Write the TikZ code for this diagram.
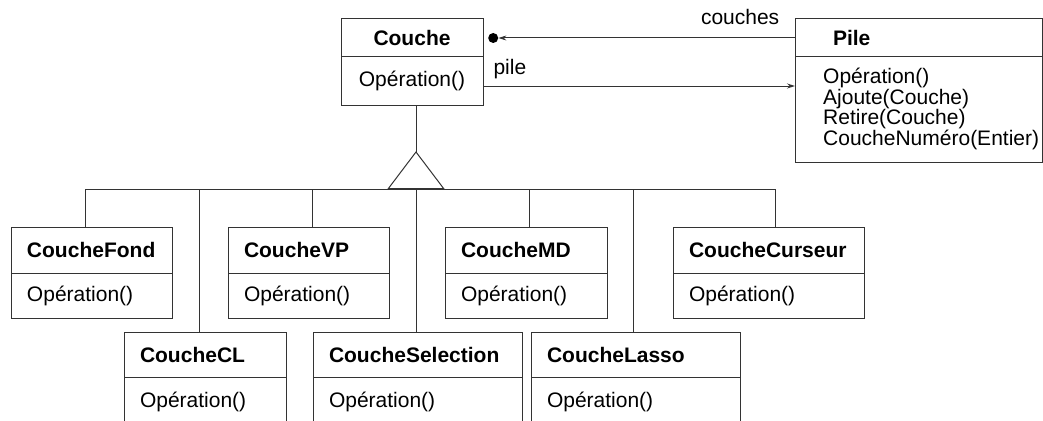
\documentclass[tikz,border=0pt]{standalone}
\usepackage{fontspec}
\setmainfont{Liberation Sans}
\usetikzlibrary{positioning,arrows.meta}

\newcommand{\taille}{\fontsize{21pt}{17.3pt}\selectfont}

\tikzset{
  trait/.style={draw=black!80, line width=1pt},
  nom/.style={trait, anchor=north west, align=left, font=\taille\bfseries, inner xsep=16pt, inner ysep=0pt, outer sep=0pt, text width=#1},
  ops/.style={trait, anchor=north, align=left, inner xsep=16pt, inner ysep=0pt, outer sep=0pt, text width=#1},
  fleche/.style={draw=black!80, line width=1pt, -{Stealth[length=8pt,width=5pt]}},
}

\begin{document}
\begin{tikzpicture}[x=1pt, y=-1pt, font=\taille]
  \useasboundingbox (0,0) rectangle (1043,420);
  \clip (0,0) rectangle (1043,420);

  \node[nom=110pt, align=center, minimum height=38pt] (couche) at (341,19) {Couche};
  \node[ops=110pt, align=center, minimum height=48pt, below=0pt of couche] (coucheops) {Opération()};

  \node[nom=171pt, inner xsep=38pt, minimum height=38pt] (pile) at (795,19) {Pile};
  \node[ops=215pt, minimum height=105pt, below=0pt of pile] (pileops) {};
  \node[anchor=north west, align=left, inner sep=0pt] (pilemeth) at ([xshift=28pt,yshift=-11pt]pileops.north west)
    {Opération()\\Ajoute(Couche)\\Retire(Couche)\\CoucheNuméro(Entier)};

  \node[nom=129pt, minimum height=46pt] (fond) at (11,227) {CoucheFond};
  \node[ops=129pt, minimum height=45pt, below=0pt of fond] (fondops) {Opération()};
  \node[nom=129pt, minimum height=46pt] (vp) at (228,227) {CoucheVP};
  \node[ops=129pt, minimum height=45pt, below=0pt of vp] (vpops) {Opération()};
  \node[nom=130pt, minimum height=46pt] (md) at (445,227) {CoucheMD};
  \node[ops=130pt, minimum height=45pt, below=0pt of md] (mdops) {Opération()};
  \node[nom=159pt, minimum height=46pt] (curseur) at (673,227) {CoucheCurseur};
  \node[ops=159pt, minimum height=45pt, below=0pt of curseur] (curseurops) {Opération()};

  \node[nom=130pt, minimum height=45pt] (cl) at (124,332) {CoucheCL};
  \node[ops=130pt, minimum height=50pt, below=0pt of cl] (clops) {Opération()};
  \node[nom=177pt, minimum height=45pt] (selection) at (313,332) {CoucheSelection};
  \node[ops=177pt, minimum height=50pt, below=0pt of selection] (selectionops) {Opération()};
  \node[nom=177pt, minimum height=45pt] (lasso) at (531,332) {CoucheLasso};
  \node[ops=177pt, minimum height=50pt, below=0pt of lasso] (lassoops) {Opération()};

  \node[circle, fill=black, inner sep=0pt, minimum size=10pt, right=5pt of couche] (bout) {};
  \draw[fleche] (pile.west) -- (bout.east) node[pos=0.185, above=11pt, inner sep=2pt, text=black] (lcouches) {couches};

  \coordinate (depart) at ([yshift=-5pt]coucheops.east);
  \draw[fleche] (depart) -- (depart -| pile.west) node[pos=0, above right=4.5pt and 8pt, inner sep=2pt, text=black] (lpile) {pile};

  \coordinate (sommet) at (416,152);
  \coordinate (bfond) at (85,189);
  \coordinate (bcl) at (199,189);
  \coordinate (bvp) at (312,189);
  \coordinate (bselection) at (416,189);
  \coordinate (bmd) at (529,189);
  \coordinate (blasso) at (633,189);
  \coordinate (bcurseur) at (775,189);

  \draw[trait] (coucheops.south -| sommet) -- (sommet);
  \draw[trait] (bfond) -- (bcurseur);
  \draw[trait] (bfond) -- (bfond |- fond.north);
  \draw[trait] (bcl) -- (bcl |- cl.north);
  \draw[trait] (bvp) -- (bvp |- vp.north);
  \draw[trait] (bselection) -- (bselection |- selection.north);
  \draw[trait] (bmd) -- (bmd |- md.north);
  \draw[trait] (blasso) -- (blasso |- lasso.north);
  \draw[trait] (bcurseur) -- (bcurseur |- curseur.north);

  \draw[trait, fill=white] (sommet) -- ++(28,37) -- ++(-56,0) -- cycle;
  \draw[trait, line width=2pt] (sommet) ++(-28,37) -- ++(56,0);
\end{tikzpicture}
\end{document}
